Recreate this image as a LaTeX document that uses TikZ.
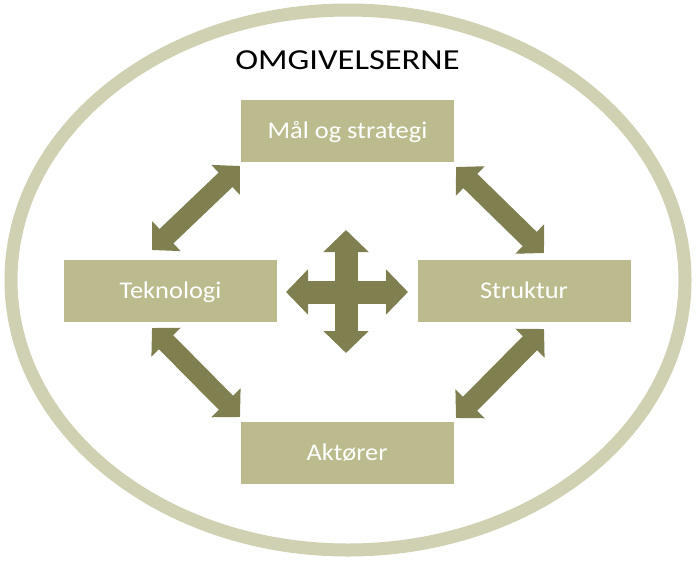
\documentclass[tikz,border=0pt]{standalone}
\usepackage{fontspec}
\setmainfont{Carlito}
\newfontfamily\boxfont[FakeStretch=1.1]{Carlito}
\newfontfamily\titlefont[FakeStretch=1.19]{Carlito}
\usetikzlibrary{arrows.meta}
\definecolor{boxfill}{HTML}{BBBB8D}
\definecolor{arrowcol}{HTML}{7F7F4F}
\definecolor{ringcol}{HTML}{D0D0B2}
\begin{document}
\begin{tikzpicture}[x=1pt,y=-1pt,
  box/.style={draw=none, fill=boxfill, minimum width=213pt, minimum height=62pt, inner sep=0pt,
    text=white, font=\boxfont\fontsize{24}{28}\selectfont, text height=15.5pt, text depth=0pt},
  dblarrow/.style={draw=arrowcol, line width=20pt,
    {Triangle[width=40pt,length=20pt]}-{Triangle[width=40pt,length=20pt]}},
  crossarrow/.style={draw=arrowcol, line width=23pt,
    {Triangle[width=44pt,length=22pt]}-{Triangle[width=44pt,length=22pt]}}]
\useasboundingbox (0,0) rectangle (696,560);
\draw[ringcol, line width=13pt] (348,280) ellipse [x radius=337pt, y radius=270pt];
\node[font=\titlefont\fontsize{29}{34}\selectfont, text height=18.7pt, text depth=0pt, inner sep=0pt] (omg) at (347.5,59.7) {OMGIVELSERNE};
\node[box] (mal) at (347.5,131) {Mål og strategi};
\node[box] (akt) at (347,452.5) {Aktører};
\node[box] (tek) at (170.5,291) {Teknologi};
\node[box] (str) at (524,291) {Struktur};
% diagonal arrows
\coordinate (tla) at (152,250); \coordinate (tlb) at (240,166);
\coordinate (tra) at (456,167); \coordinate (trb) at (544,253);
\coordinate (bla) at (152,328); \coordinate (blb) at (240,417);
\coordinate (bra) at (544,329); \coordinate (brb) at (456,418);
\draw[dblarrow] (tla) -- (tlb);
\draw[dblarrow] (tra) -- (trb);
\draw[dblarrow] (bla) -- (blb);
\draw[dblarrow] (bra) -- (brb);
% central cross
\coordinate (ct) at (346,230); \coordinate (cb) at (346,353);
\coordinate (cl) at (286,292); \coordinate (cr) at (408,292);
\draw[crossarrow] (ct) -- (cb);
\draw[crossarrow] (cl) -- (cr);
\end{tikzpicture}
\end{document}
